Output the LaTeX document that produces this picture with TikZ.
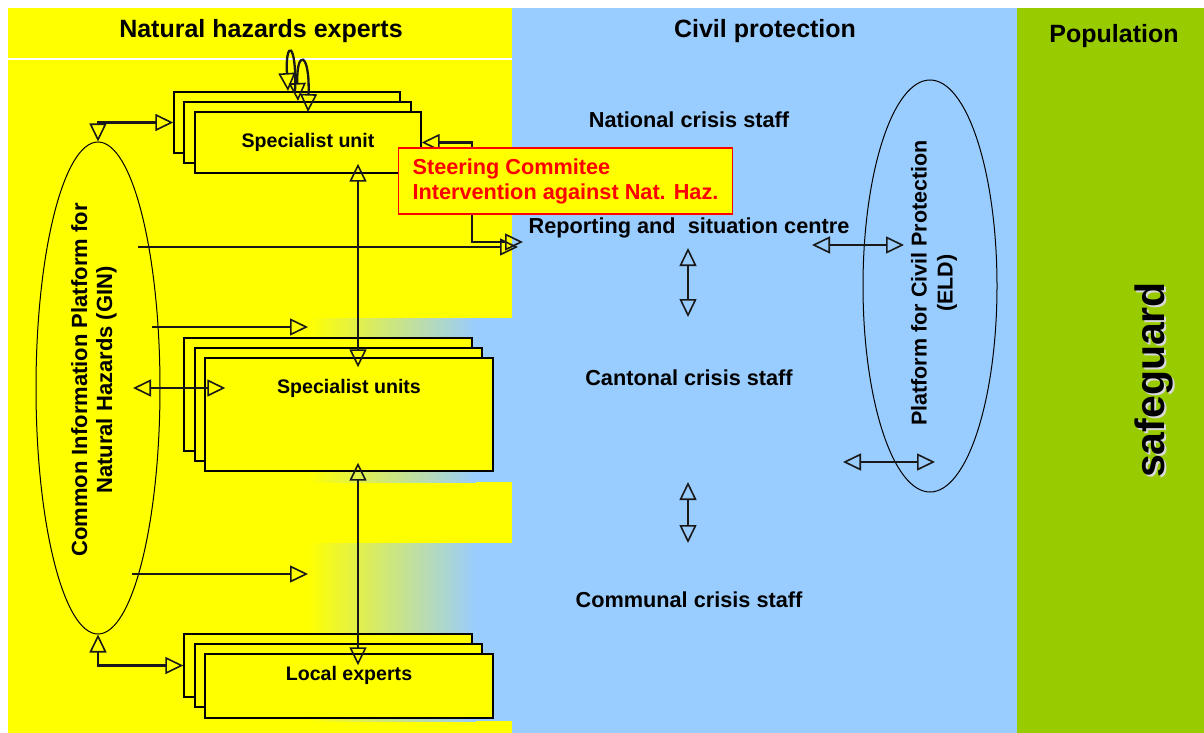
\documentclass[tikz,border=0pt]{standalone}
\usepackage{fontspec}
\setmainfont{Liberation Sans}
\usetikzlibrary{arrows.meta,shapes.geometric,calc}
\definecolor{hzyellow}{HTML}{FFFF00}
\definecolor{cpblue}{HTML}{99CCFF}
\definecolor{popgreen}{HTML}{99CC00}
\begin{document}
\begin{tikzpicture}[x=1pt,y=-1pt,
  >={Triangle[open,length=18pt,width=17pt,line width=1.6pt]},
  conn/.style={draw=black!90,line width=2.3pt},
  sar/.style={conn,->},
  dar/.style={conn,<->},
  box/.style={draw=black,line width=1.4pt,fill=hzyellow,rectangle,inner sep=0pt},
  boxtxt/.style={font=\fontsize{19.6}{23}\selectfont\bfseries},
  cptxt/.style={font=\fontsize{21.7}{25}\selectfont\bfseries},
  hdr/.style={font=\fontsize{25}{30}\selectfont\bfseries},
  ell/.style={draw=black,line width=1pt,ellipse,inner sep=0pt}]
\useasboundingbox (0,0) rectangle (1204,733);
% columns
\fill[white] (0,0) rectangle (1204,733);
\fill[hzyellow] (8,8) rectangle (512,733);
\fill[cpblue] (512,8) rectangle (1017,733);
\fill[popgreen] (1017,8) rectangle (1204,733);
\draw[white,line width=1.5pt] (8,59) -- (512,59);
% gradient patches
\shade[left color=hzyellow,right color=cpblue] (308,318) rectangle (476,482);
\fill[cpblue] (475.5,318) rectangle (512.5,482);
\shade[left color=hzyellow,right color=cpblue] (308,543) rectangle (476,721);
\fill[cpblue] (475.5,543) rectangle (512.5,721);
% ellipses
\node[ell,minimum width=124pt,minimum height=492pt] (gin) at (98,388) {};
\node[rotate=90,align=center,font=\fontsize{22}{25}\selectfont\bfseries] (gintxt) at (94,380) {Common Information Platform for\\Natural Hazards (GIN)};
\node[ell,minimum width=134pt,minimum height=412pt] (eld) at (930,286) {};
\node[rotate=90,align=center,font=\fontsize{21.5}{26}\selectfont\bfseries] (eldtxt) at (934,283) {Platform for Civil Protection\\(ELD)};
% specialist unit stack
\node[box,minimum width=226pt,minimum height=61pt] (su1) at (287,122.5) {};
\node[box,minimum width=227pt,minimum height=61pt] (su2) at (297.5,132.5) {};
\node[box,minimum width=226pt,minimum height=61pt,boxtxt] (su3) at (308,142.5) {Specialist unit};
% specialist units stack
\node[box,minimum width=288pt,minimum height=113pt] (sus1) at (328,394.5) {};
\node[box,minimum width=287pt,minimum height=113pt] (sus2) at (338.5,404.5) {};
\node[box,minimum width=288pt,minimum height=113pt] (sus3) at (349,414.5) {};
\node[boxtxt] (suslbl) at (349,388) {Specialist units};
% local experts stack
\node[box,minimum width=288pt,minimum height=63pt] (le1) at (328,665.5) {};
\node[box,minimum width=287pt,minimum height=63pt] (le2) at (338.5,675.5) {};
\node[box,minimum width=288pt,minimum height=64pt] (le3) at (349,686) {};
\node[boxtxt] (lelbl) at (349,675) {Local experts};
% connectors on the left
\draw[dar] (gin.north) |- (su1.west);
\draw[dar] (gin.south) |- (le1.west);
\draw[dar] ($(gin.center)+(35,0)$) -- ($(sus3.west |- gin.center)+(21,0)$);
\coordinate (a1s) at (152,327);
\coordinate (a1e) at (308,327);
\draw[sar] (a1s) -- (a1e);
\coordinate (a2s) at (132,574);
\coordinate (a2e) at (308,574);
\draw[sar] (a2s) -- (a2e);
\coordinate (a3s) at (138,247);
\coordinate (a3e) at (518,247);
\draw[sar] (a3s) -- (a3e);
\coordinate (sp) at (472,242);
\coordinate (spe) at (523,242);
\draw[dar] (su3.east) -| (sp) -- (spe);
\coordinate (vx) at (358,0);
\draw[dar] ($(su3.south -| vx)+(0,-10)$) -- ($(sus3.north -| vx)+(0,10)$);
\draw[dar] ($(sus3.south -| vx)+(0,-9)$) -- ($(le3.north -| vx)+(0,12)$);
% loops on top of the specialist unit stack
\coordinate (l1a) at (295,92);
\coordinate (l1b) at (288,91);
\draw[sar] (l1a) .. controls (297,40) and (285,40) .. (l1b);
\coordinate (l2a) at (298,101);
\coordinate (l2b) at (308,112);
\draw[dar] (l2a) .. controls (296,50) and (310,50) .. (l2b);
% steering committee
\node[draw=red,line width=1.3pt,fill=hzyellow,text=red,align=left,inner xsep=14pt,minimum height=66pt,font=\fontsize{21.7}{25}\selectfont\bfseries] (steer) at (565.5,181) {Steering Commitee\\Intervention against Nat. Haz.};
% headers
\node[hdr] (h1) at (261,31) {Natural hazards experts};
\node[hdr] (h2) at (765,31) {Civil protection};
\node[hdr] (h3) at (1114,36) {Population};
% civil protection labels
\node[cptxt] (ncs) at (689,120) {National crisis staff};
\node[cptxt] (rsc) at (689,228) {Reporting and\ \ situation centre};
\node[cptxt] (ccs) at (689,378) {Cantonal crisis staff};
\node[cptxt] (comm) at (689,600) {Communal crisis staff};
\coordinate (c1a) at (688,248);
\coordinate (c1b) at (688,317);
\draw[dar] (c1a) -- (c1b);
\coordinate (c2a) at (688,482);
\coordinate (c2b) at (688,543);
\draw[dar] (c2a) -- (c2b);
\coordinate (e1a) at (812,245);
\coordinate (e1b) at (904,245);
\draw[dar] (e1a) -- (e1b);
\coordinate (e2a) at (843,462);
\coordinate (e2b) at (935,462);
\draw[dar] (e2a) -- (e2b);
% safeguard
\node[rotate=90,font=\fontsize{41}{46}\selectfont\bfseries,text=white!70!gray] (sgs) at (1156,382) {safeguard};
\node[rotate=90,font=\fontsize{41}{46}\selectfont\bfseries,text=black] (sg) at (1154,380) {safeguard};
\end{tikzpicture}
\end{document}
